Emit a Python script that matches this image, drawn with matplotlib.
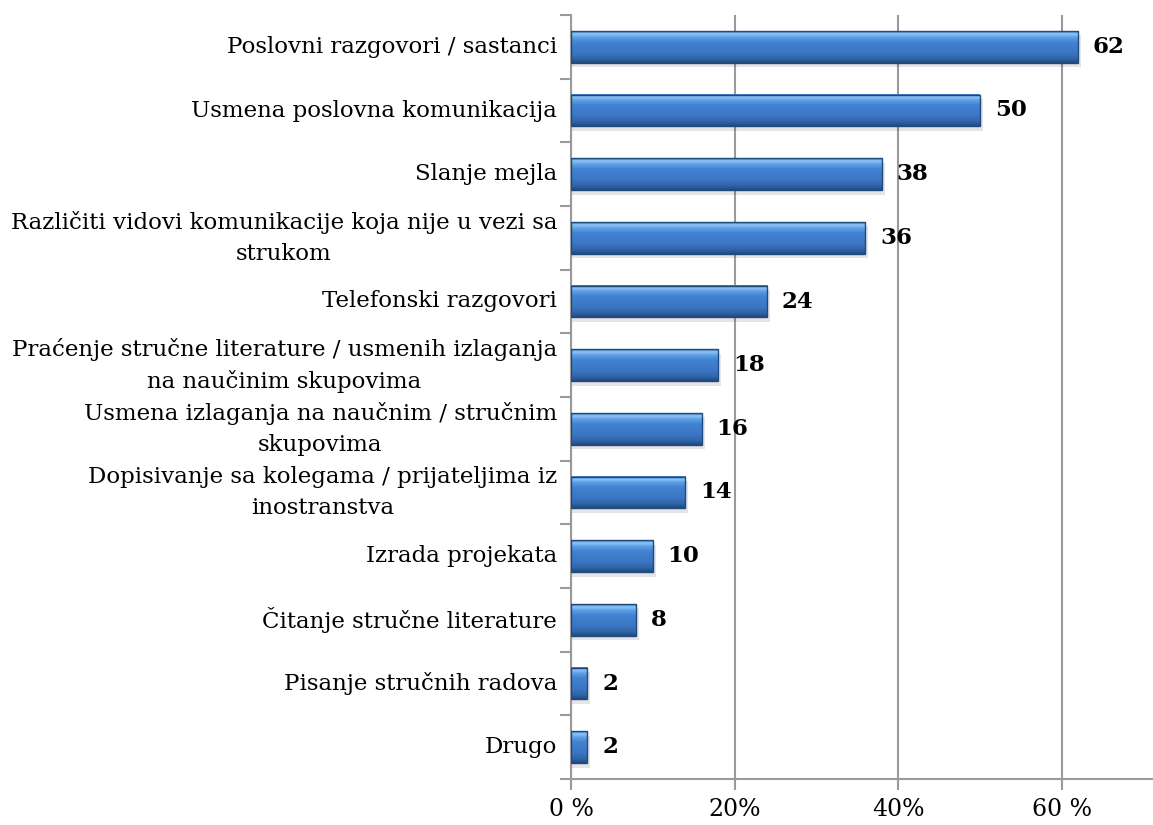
import matplotlib.pyplot as plt
import numpy as np
from matplotlib.colors import LinearSegmentedColormap
from matplotlib.patches import Rectangle

categories = [
    "Poslovni razgovori / sastanci",
    "Usmena poslovna komunikacija",
    "Slanje mejla",
    "Različiti vidovi komunikacije koja nije u vezi sa\nstrukom",
    "Telefonski razgovori",
    "Praćenje stručne literature / usmenih izlaganja\nna naučinim skupovima",
    "Usmena izlaganja na naučnim / stručnim\nskupovima",
    "Dopisivanje sa kolegama / prijateljima iz\ninostranstva",
    "Izrada projekata",
    "Čitanje stručne literature",
    "Pisanje stručnih radova",
    "Drugo",
]
values = [62, 50, 38, 36, 24, 18, 16, 14, 10, 8, 2, 2]
tick_vals = [0, 20, 40, 60]
tick_labels = ["0 %", "20%", "40%", "60 %"]

plt.rcParams['font.family'] = ['DejaVu Serif']

fig = plt.figure(figsize=(11.53, 8.25), dpi=100)
ax = fig.add_axes([571 / 1153, 46 / 825, 1 - 571 / 1153, (779 - 15) / 825])

n = len(categories)
ypos = np.arange(n)
bar_h = 0.5

# vertical shading for the bars: thin highlight near the top, darker bottom
grad = LinearSegmentedColormap.from_list("bar", [
    (0.0, "#3470bd"), (0.08, "#8ec6f8"), (0.2, "#5c9de4"),
    (0.35, "#4182d2"), (0.7, "#3a75c2"), (0.88, "#2f62a6"),
    (1.0, "#22497c")])
g = np.linspace(0, 1, 128).reshape(-1, 1)

for y, v in zip(ypos, values):
    # soft drop shadow
    ax.add_patch(Rectangle((0, y - bar_h / 2 + 0.07), v + 0.35, bar_h,
                           facecolor="#000000", alpha=0.10, lw=0, zorder=2))
    ax.imshow(g, cmap=grad, aspect="auto", interpolation="bilinear",
              extent=(0, v, y + bar_h / 2, y - bar_h / 2), zorder=3)
    ax.add_patch(Rectangle((0, y - bar_h / 2), v, bar_h, facecolor="none",
                           edgecolor="#1f4a80", lw=1.0, zorder=4))
    ax.text(v + 1.8, y, str(v), va="center", ha="left", fontsize=16.5,
            fontweight="bold", color="black", zorder=5)

ax.set_xlim(0, 580 / 163 * 20)
ax.set_ylim(n - 0.5, -0.5)

ax.set_xticks(tick_vals)
ax.set_xticklabels(tick_labels, fontsize=17)
ax.xaxis.grid(True, color="#9a9a9a", lw=1.5, zorder=1)
ax.set_axisbelow(True)
ax.tick_params(axis="x", length=8, width=1.5, color="#9a9a9a", pad=6)

# category ticks sit between the bars
ax.set_yticks(np.arange(n + 1) - 0.5)
ax.set_yticklabels([])
ax.tick_params(axis="y", length=8, width=1.5, color="#9a9a9a")
for y, lab in zip(ypos, categories):
    ax.text(-0.024, y, lab, transform=ax.get_yaxis_transform(), ha="right",
            va="center", multialignment="center", fontsize=16.5,
            linespacing=1.5)

for s in ["top", "right"]:
    ax.spines[s].set_visible(False)
for s in ["left", "bottom"]:
    ax.spines[s].set_color("#9a9a9a")
    ax.spines[s].set_linewidth(1.5)

fig.savefig("out.png", dpi=100)
